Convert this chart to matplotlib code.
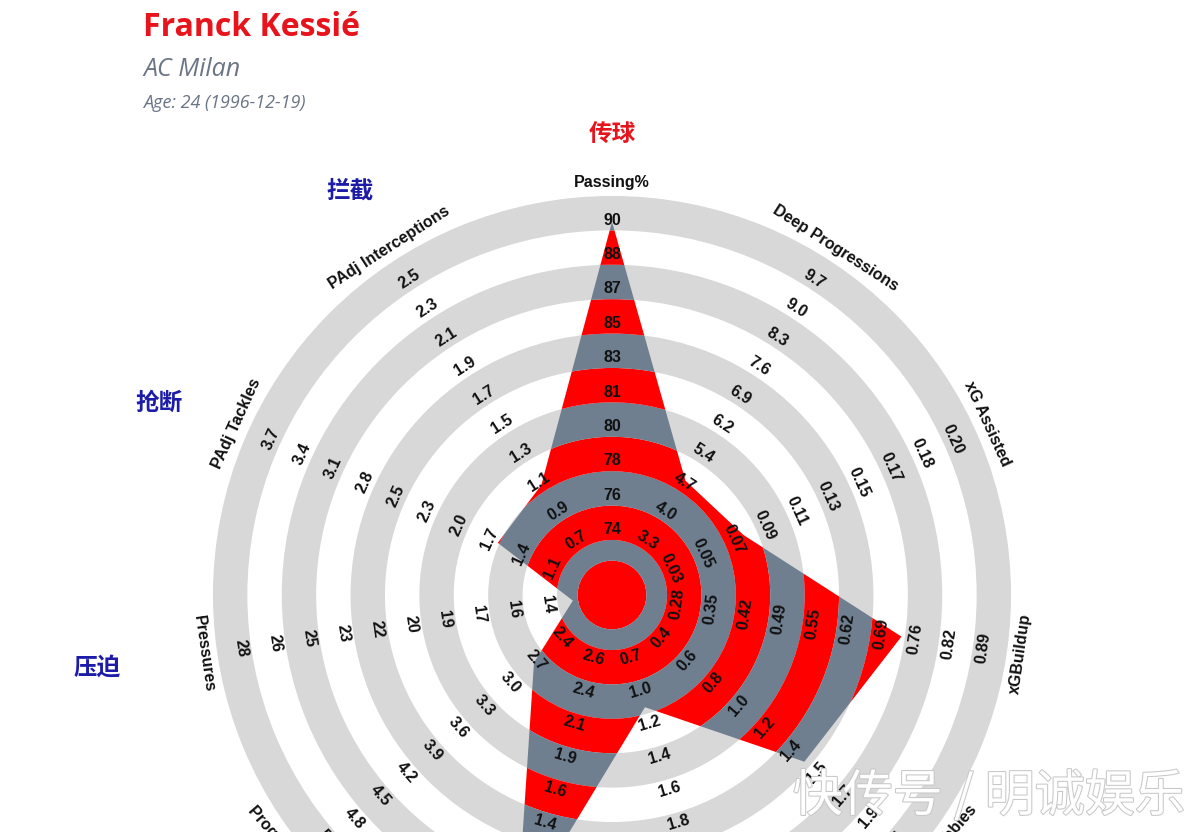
import numpy as np
import matplotlib
matplotlib.use("Agg")
import matplotlib.pyplot as plt
import matplotlib.patheffects as pe
from matplotlib.patches import Wedge, Circle, Polygon

plt.rcParams['font.family'] = ['Liberation Sans', 'DejaVu Sans', 'Noto Sans CJK SC']

params = ["Passing%", "Deep Progressions", "xG Assisted", "xGBuildup",
          "Successful Dribbles", "Turnovers", "Dispossessed",
          "Progressive Passes", "Pressures", "PAdj Tackles", "PAdj Interceptions"]
tick_labels = [
    ["74", "76", "78", "80", "81", "83", "85", "87", "88", "90"],
    ["3.3", "4.0", "4.7", "5.4", "6.2", "6.9", "7.6", "8.3", "9.0", "9.7"],
    ["0.03", "0.05", "0.07", "0.09", "0.11", "0.13", "0.15", "0.17", "0.18", "0.20"],
    ["0.28", "0.35", "0.42", "0.49", "0.55", "0.62", "0.69", "0.76", "0.82", "0.89"],
    ["0.4", "0.6", "0.8", "1.0", "1.2", "1.4", "1.5", "1.7", "1.9", "2.1"],
    ["0.7", "1.0", "1.2", "1.4", "1.6", "1.8", "2.0", "2.2", "2.4", "2.6"],
    ["2.6", "2.4", "2.1", "1.9", "1.6", "1.4", "1.1", "0.9", "0.6", "0.4"],
    ["2.4", "2.7", "3.0", "3.3", "3.6", "3.9", "4.2", "4.5", "4.8", "5.1"],
    ["14", "16", "17", "19", "20", "22", "23", "25", "26", "28"],
    ["1.1", "1.4", "1.7", "2.0", "2.3", "2.5", "2.8", "3.1", "3.4", "3.7"],
    ["0.7", "0.9", "1.1", "1.3", "1.5", "1.7", "1.9", "2.1", "2.3", "2.5"],
]
# player value on each axis, in ring units
values = [10.85, 3.95, 4.2, 8.5, 7.4, 3.4, 9.8, 3.0, 1.15, 3.65, 3.8]

groups = ["传球", "拦截", "抢断", "压迫"]
group_angles = [90, 123, 157, -172]
group_radius = [13.4, 14.0, 14.3, 15.1]
group_colors = ["#e8141c", "#1c1ca8", "#1c1ca8", "#1c1ca8"]

RED = "#ff0000"
SLATE = "#6f7f8f"
GRAY = "#d8d8d8"

cx, cy, u = 612, 237, 34.4   # centre (pixels from bottom) and ring unit

fig = plt.figure(figsize=(12, 8.32), dpi=100)
ax = fig.add_axes([0, 0, 1, 1])
ax.set_xlim(0, 1200)
ax.set_ylim(0, 832)
ax.axis("off")

n = len(params)
angles = 90 - np.arange(n) * 360 / n

def pt(ang, r):
    a = np.radians(ang)
    return cx + r * u * np.cos(a), cy + r * u * np.sin(a)

# ring edges
edges = [0, 1.0, 1.6] + [2.6 + j for j in range(10)]

# background rings
for i in range(len(edges) - 1):
    if i % 2 == 1:
        ax.add_patch(Wedge((cx, cy), edges[i + 1] * u, 0, 360,
                           width=(edges[i + 1] - edges[i]) * u, color=GRAY, lw=0, zorder=1))

# player polygon with alternating bands
poly_pts = [pt(a, v) for a, v in zip(angles, values)]
poly = Polygon(poly_pts, closed=True, transform=ax.transData, fc="none", ec="none")
ax.add_patch(poly)
for i in range(len(edges) - 1):
    col = RED if i % 2 == 0 else SLATE
    if i == 0:
        p = Circle((cx, cy), edges[1] * u, color=col, lw=0, zorder=2)
    else:
        p = Wedge((cx, cy), edges[i + 1] * u, 0, 360,
                  width=(edges[i + 1] - edges[i]) * u, color=col, lw=0, zorder=2)
    ax.add_patch(p)
    p.set_clip_path(poly)

def rot_for(ang):
    r = ang - 90
    while r < -90:
        r += 180
    while r > 90:
        r -= 180
    return r

# tick labels and parameter names
for ang, labs, name in zip(angles, tick_labels, params):
    rot = rot_for(ang)
    for j, lab in enumerate(labs):
        x, y = pt(ang, 1.9 + j)
        ax.text(x, y, lab, rotation=rot, ha="center", va="center",
                fontsize=11.5, fontweight="bold", color="#111111", zorder=5)
    x, y = pt(ang, 12.0)
    ax.text(x, y, name, rotation=rot, ha="center", va="center",
            fontsize=11.5, fontweight="bold", color="#111111", zorder=5)

for g, ga, gr, gc in zip(groups, group_angles, group_radius, group_colors):
    x, y = pt(ga, gr)
    ax.text(x, y, g, ha="center", va="center", fontsize=17, fontweight="bold",
            color=gc, family=["Noto Sans CJK SC", "DejaVu Sans"], zorder=5)

# titles
ax.text(143, 805, "Franck Kessié", fontsize=23, fontweight="bold", color="#e8141c",
        ha="left", va="center", family=["Open Sans", "DejaVu Sans"])
ax.text(143, 762, "AC Milan", fontsize=18, style="italic", color="#6a7585",
        ha="left", va="center", family=["Open Sans", "DejaVu Sans"])
ax.text(143, 729, "Age: 24 (1996-12-19)", fontsize=13, style="italic", color="#6a7585",
        ha="left", va="center", family=["Open Sans", "DejaVu Sans"])

# watermark
ax.text(1185, 35, "快传号 / 明诚娱乐", fontsize=36, color="white",
        ha="right", va="center", family=["Noto Sans CJK SC", "DejaVu Sans"], zorder=10,
        path_effects=[pe.withStroke(linewidth=1.5, foreground="#c8c8c8")])

fig.savefig("out.png", dpi=100)
